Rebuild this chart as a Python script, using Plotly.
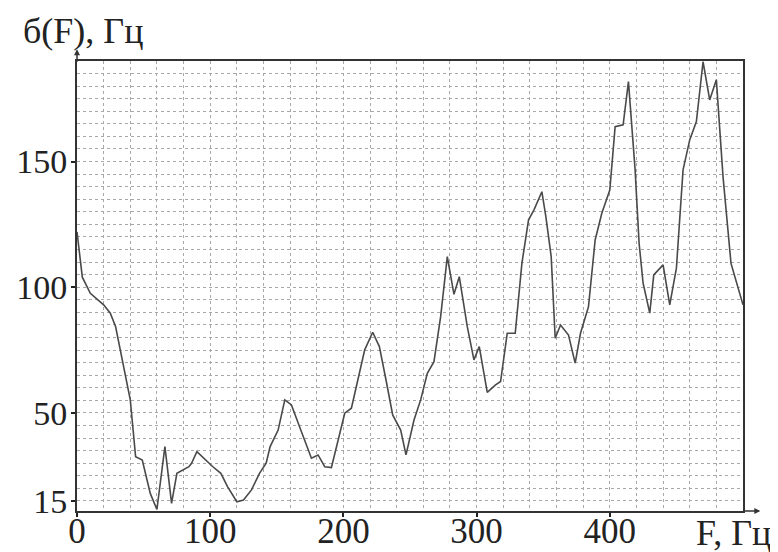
import plotly.graph_objects as go

freq = [0, 4, 10, 20, 25, 29, 35, 40, 44, 49, 55, 60, 66, 71, 75, 84, 86, 90, 102, 108,
        113, 120, 125, 131, 137, 142, 145, 151, 156, 161, 168, 176, 181, 186, 191, 196,
        201, 206, 211, 216, 222, 227, 232, 237, 243, 247, 253, 258, 263, 268, 273, 278,
        283, 287, 293, 298, 302, 308, 314, 318, 323, 329, 334, 339, 343, 349, 352, 356,
        359, 363, 369, 374, 378, 384, 389, 394, 400, 404, 410, 414, 419, 422, 425, 430,
        433, 440, 445, 450, 455, 460, 465, 470, 475, 480, 485, 491, 500]
sigma = [122, 104, 97.6, 93, 89.7, 84.3, 68.4, 55.2, 32.6, 31.3, 18, 11.6, 36.6, 14, 26,
         28.6, 30, 34.6, 28.6, 26, 20.7, 14.7, 15.4, 19.4, 26, 30, 36.6, 43.2, 55.2, 53.2,
         43.2, 32, 33.3, 28.6, 28.3, 39.3, 49.9, 51.9, 63.1, 75.1, 82.1, 76.4, 63.1, 49.2,
         43.2, 33.3, 47.2, 55.2, 65.8, 70.4, 88.3, 112.2, 97.2, 104.2, 84.3, 71.1, 76.4,
         58.2, 61.1, 62.5, 81.7, 81.7, 109.5, 126.8, 130.7, 138, 128.1, 112.2, 79.7, 85,
         81, 69.8, 81.7, 92.3, 118.8, 129.4, 138.7, 163.9, 164.6, 181.8, 146.7, 117.5,
         101.6, 89.7, 104.9, 108.9, 93, 107.6, 146.7, 158.6, 165.9, 189.7, 174.5, 182.5,
         144, 109.5, 93]

x_ticks = [0, 100, 200, 300, 400]
y_ticks = [15, 50, 100, 150]
y_title = "б(F), Гц"
x_title = "F, Гц"

font_family = "Liberation Serif, Times New Roman, serif"

fig = go.Figure()
fig.add_trace(go.Scatter(x=freq, y=sigma, mode="lines",
                         line=dict(color="#4a4a4a", width=1.6),
                         hoverinfo="skip", showlegend=False))

grid_col = "#a8a8a8"
fig.update_xaxes(range=[0, 500], tickvals=x_ticks, ticks="outside", ticklen=4,
                 tickwidth=2, tickcolor="#222", automargin=False,
                 ticklabelstandoff=-16,
                 showline=True, linecolor="#333", linewidth=2, mirror=True,
                 showgrid=True, gridcolor=grid_col, griddash="dot", gridwidth=1,
                 minor=dict(dtick=20, tick0=0, showgrid=True, gridcolor=grid_col,
                            griddash="dot", gridwidth=1),
                 zeroline=False,
                 tickfont=dict(family=font_family, size=35, color="#222"))
fig.update_yaxes(range=[11, 190], tickvals=y_ticks, ticks="outside", ticklen=4,
                 tickwidth=2, tickcolor="#222", automargin=False,
                 ticklabelstandoff=-3,
                 showline=True, linecolor="#333", linewidth=2, mirror=True,
                 showgrid=True, gridcolor=grid_col, griddash="dot", gridwidth=1,
                 minor=dict(dtick=5, tick0=15, showgrid=True, gridcolor=grid_col,
                            griddash="dot", gridwidth=1),
                 zeroline=False,
                 tickfont=dict(family=font_family, size=34, color="#222"))

fig.update_layout(
    width=770, height=544,
    margin=dict(l=69, r=35, t=53, b=41, autoexpand=False),
    paper_bgcolor="white", plot_bgcolor="white",
    annotations=[
        dict(text=y_title, xref="paper", yref="paper", x=-0.084, y=1.0667,
             xanchor="left", yanchor="middle", showarrow=False,
             font=dict(family=font_family, size=36, color="#222")),
        dict(text=x_title, xref="paper", yref="paper", x=1.045, y=-0.049,
             xanchor="right", yanchor="middle", showarrow=False,
             font=dict(family=font_family, size=36, color="#222")),
        dict(text="", xref="paper", yref="paper", x=0, y=1.026,
             axref="pixel", ayref="pixel", ax=0, ay=14, showarrow=True,
             arrowhead=2, arrowsize=0.8, arrowwidth=1.5, arrowcolor="#333"),
        dict(text="", xref="paper", yref="paper", x=1.026, y=0,
             axref="pixel", ayref="pixel", ax=-18, ay=0, showarrow=True,
             arrowhead=2, arrowsize=0.8, arrowwidth=1.5, arrowcolor="#333"),
    ],
)

fig.write_html("out.html")
